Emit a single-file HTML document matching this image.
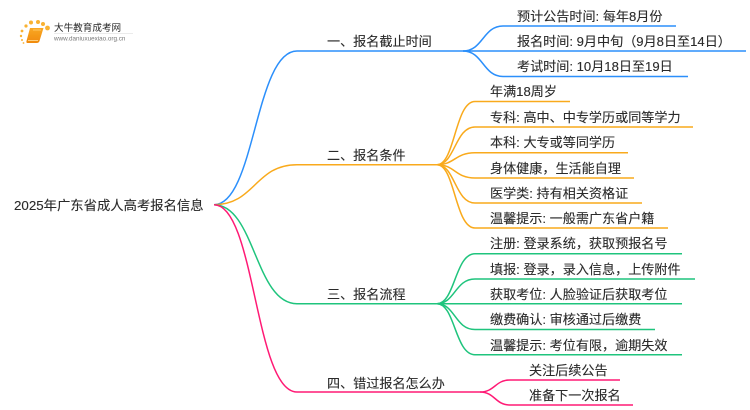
<!DOCTYPE html>
<html><head><meta charset="utf-8">
<style>
html,body{margin:0;padding:0;background:#fff;width:750px;height:410px;overflow:hidden}
svg{display:block}
text{font-family:"Liberation Sans","Noto Sans CJK SC",sans-serif;font-size:13.1px;fill:#2a2a2a;stroke:#2a2a2a;stroke-width:.12px}
</style></head><body>
<svg width="750" height="410" viewBox="0 0 750 410" xmlns="http://www.w3.org/2000/svg">
<defs>
<linearGradient id="b" x1="0" y1="0" x2="0" y2="1"><stop offset="0" stop-color="#f9a825"/><stop offset="1" stop-color="#f08a0c"/></linearGradient>
<filter id="s" x="-10%" y="-10%" width="120%" height="120%"><feGaussianBlur stdDeviation=".35"/></filter>
</defs>
<!-- logo -->
<g filter="url(#s)">
<g fill="#f9b233">
<circle cx="38" cy="22" r="2"/><circle cx="31" cy="22.500" r="2"/><circle cx="43" cy="24" r="2"/><circle cx="47.500" cy="28" r="2.400"/><circle cx="26" cy="26" r="1.600"/><circle cx="22" cy="31" r="1.400"/><circle cx="21" cy="36" r="1.200"/><circle cx="22" cy="40" r="1"/><circle cx="23.500" cy="43" r=".9"/>
</g>
<path d="M30 28H43.500L39.500 41Q39 43 36.500 43H27.500Q26 43 26.500 41Z" fill="url(#b)"/>
<path d="M28 40.500H38" stroke="#ffd890" stroke-width=".9"/>
<path d="M33 30H41" stroke="#ffc860" stroke-width="1"/>
<text x="54" y="31" style="font-size:9.600px;stroke-width:0">大牛教育成考网</text>
<text x="54" y="40.500" style="font-size:6.300px;fill:#777;stroke-width:0">www.daniuxuexiao.org.cn</text>
<path d="M54 33.500H133" stroke="#e4e4e4" stroke-width=".7"/>
</g>

<g fill="none" stroke-width="1.500">
<!-- blue -->
<g stroke="#2b8ffb">
<path d="M214 204.700C255 204.700 255 51 297 51H463"/>
<path d="M463 51C483 51 483 26 503 26H676"/>
<path d="M463 51H746"/>
<path d="M463 51C483 51 483 76.500 503 76.500H688"/>
</g>
<!-- orange -->
<g stroke="#f9aa1c">
<path d="M214 204.700C255 204.700 255 164.700 297 164.700H437"/>
<path d="M437 164.700C455 164.700 455 101.500 475 101.500H570"/>
<path d="M437 164.700C455 164.700 455 127 475 127H693"/>
<path d="M437 164.700C455 164.700 455 152.700 475 152.700H628"/>
<path d="M437 164.700C455 164.700 455 178 475 178H634"/>
<path d="M437 164.700C455 164.700 455 203 475 203H642"/>
<path d="M437 164.700C455 164.700 455 228 475 228H668"/>
</g>
<!-- green -->
<g stroke="#1fc47d">
<path d="M214 204.700C255 204.700 255 303.700 297 303.700H437"/>
<path d="M437 303.700C455 303.700 455 253.700 475 253.700H682"/>
<path d="M437 303.700C455 303.700 455 279 475 279H695"/>
<path d="M437 303.700H682"/>
<path d="M437 303.700C455 303.700 455 329.500 475 329.500H655"/>
<path d="M437 303.700C455 303.700 455 354.700 475 354.700H682"/>
</g>
<!-- pink -->
<g stroke="#ff1a75">
<path d="M214 204.700C255 204.700 255 392 297 392H480"/>
<path d="M480 392C495 392 495 380 510 380H620"/>
<path d="M480 392C495 392 495 405 510 405H633"/>
</g>
</g>

<text x="14" y="210" style="font-size:13.330px">2025年广东省成人高考报名信息</text>

<text x="327" y="46">一、报名截止时间</text>
<text x="327" y="160">二、报名条件</text>
<text x="327" y="299">三、报名流程</text>
<text x="327" y="388">四、错过报名怎么办</text>

<text x="517" y="21">预计公告时间: 每年8月份</text>
<text x="517" y="46">报名时间: 9月中旬（9月8日至14日）</text>
<text x="517" y="71">考试时间: 10月18日至19日</text>

<text x="490" y="96">年满18周岁</text>
<text x="490" y="122">专科: 高中、中专学历或同等学力</text>
<text x="490" y="147">本科: 大专或等同学历</text>
<text x="490" y="173">身体健康，生活能自理</text>
<text x="490" y="198">医学类: 持有相关资格证</text>
<text x="490" y="223">温馨提示: 一般需广东省户籍</text>

<text x="490" y="248">注册: 登录系统，获取预报名号</text>
<text x="490" y="274">填报: 登录，录入信息，上传附件</text>
<text x="490" y="299">获取考位: 人脸验证后获取考位</text>
<text x="490" y="324">缴费确认: 审核通过后缴费</text>
<text x="490" y="350">温馨提示: 考位有限，逾期失效</text>

<text x="529" y="375">关注后续公告</text>
<text x="529" y="400">准备下一次报名</text>
</svg>
</body></html>
